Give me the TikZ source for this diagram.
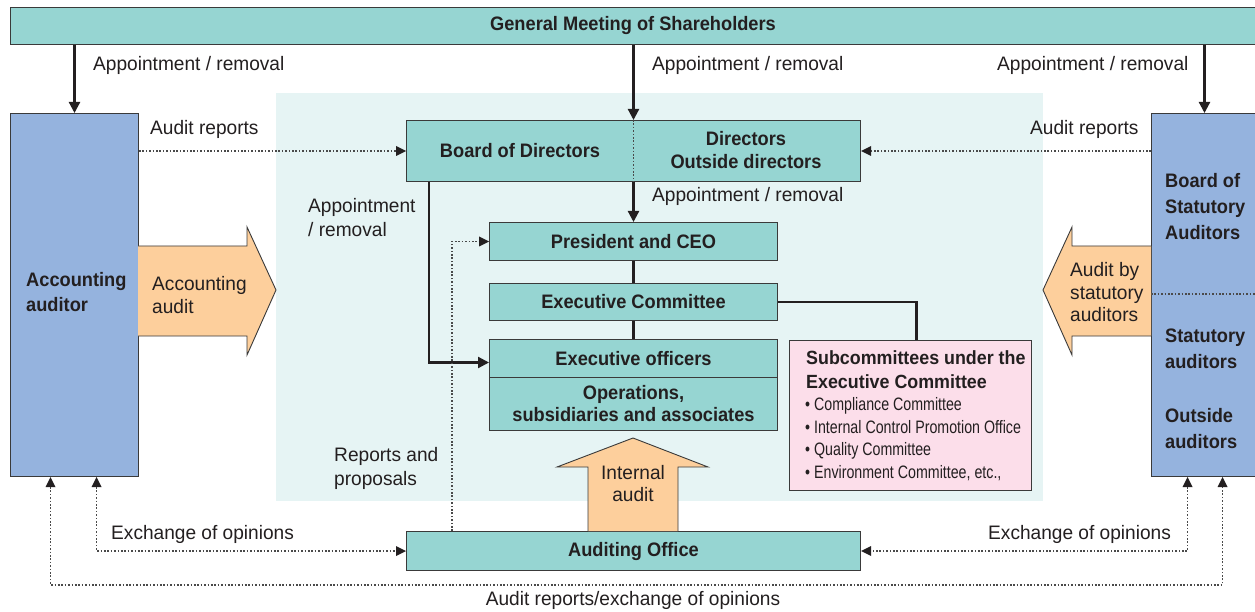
\documentclass[tikz,border=0pt]{standalone}
\usepackage{fontspec}
\setmainfont{Liberation Sans}[FakeStretch=0.98, BoldFont={Liberation Sans Bold}, BoldFeatures={FakeStretch=0.935}]
\newfontfamily\listfont{Liberation Sans}[FakeStretch=0.79]
\usetikzlibrary{arrows.meta,calc}

\definecolor{boxteal}{HTML}{96D5D2}
\definecolor{boxblue}{HTML}{95B3DE}
\definecolor{panelfill}{HTML}{E6F4F4}
\definecolor{arrowfill}{HTML}{FDCF9C}
\definecolor{pinkfill}{HTML}{FCDEEA}
\definecolor{ink}{HTML}{231F20}
\definecolor{edge}{HTML}{3A3A3A}
\definecolor{dotgray}{HTML}{4A4A4A}

\tikzset{
  box/.style={draw=edge, line width=1pt, inner sep=0pt, anchor=north west},
  tealbox/.style={box, fill=boxteal},
  bluebox/.style={box, fill=boxblue},
  pinkbox/.style={box, fill=pinkfill},
  btext/.style={font=\bfseries\fontsize{19.5}{23}\selectfont, text=ink, inner sep=0pt, align=center},
  lbl/.style={font=\fontsize{19.5}{24}\selectfont, text=ink, inner sep=0pt, anchor=west, align=left},
  blbl/.style={font=\bfseries\fontsize{19.5}{26}\selectfont, text=ink, inner sep=0pt, anchor=west, align=left},
  solidarr/.style={line width=2.2pt, draw=ink, -{Triangle[length=11pt,width=11pt]}},
  link/.style={line width=2.2pt, draw=ink},
  dotline/.style={draw=dotgray, line width=1.6pt, dash pattern=on 1.6pt off 1.8pt},
  dotarr/.style={dotline, -{Triangle[length=10pt,width=10pt,fill=ink,line width=0pt]}},
  dotboth/.style={dotline, {Triangle[length=10pt,width=10pt,fill=ink,line width=0pt]}-{Triangle[length=10pt,width=10pt,fill=ink,line width=0pt]}},
  bigarrow/.style={draw=edge, line width=0.9pt}
}

\begin{document}
\begin{tikzpicture}[x=1pt,y=-1pt]
\useasboundingbox[fill=white] (0,0) rectangle (1255,612);

% shaded management area
\fill[panelfill] (276,93) rectangle (1043,501);

% shareholders and the two auditor columns
\node[tealbox, minimum width=1250, minimum height=37] (gm) at (10,7) {};
\node[btext] (gmtext) at (633,25.5) {General Meeting of Shareholders};

\node[bluebox, minimum width=128, minimum height=363] (aa) at (10,113) {};
\node[blbl, font=\bfseries\fontsize{19.5}{25}\selectfont] (aatext) at (26,292) {Accounting\\auditor};

\node[bluebox, minimum width=106, minimum height=363] (sa) at (1151,113) {};
\draw[dotline] (sa.west |- 0,294) -- (sa.east |- 0,294);
\node[blbl] (satext1) at (1165,207) {Board of\\Statutory\\Auditors};
\node[blbl] (satext2) at (1165,349) {Statutory\\auditors};
\node[blbl] (satext3) at (1165,429) {Outside\\auditors};

% board of directors
\node[tealbox, minimum width=454, minimum height=61] (bod) at (406,120) {};
\draw[dotline] (bod.north) -- (bod.south);
\node[btext] (bodL) at (520,151) {Board of Directors};
\node[btext] (bodR) at (746,150) {Directors\\Outside directors};

% executive chain
\node[tealbox, minimum width=288, minimum height=38] (ceo) at (489,222) {};
\node[btext] (ceotext) at (ceo.center) {President and CEO};
\node[tealbox, minimum width=288, minimum height=37] (ec) at (489,283) {};
\node[btext] (ectext) at (ec.center) {Executive Committee};
\node[tealbox, minimum width=288, minimum height=38] (eo) at (489,339) {};
\node[btext] (eotext) at (eo.center) {Executive officers};
\node[tealbox, minimum width=288, minimum height=53] (ops) at (489,377) {};
\node[btext, font=\bfseries\fontsize{19.5}{22}\selectfont] (opstext) at ($(ops.center)+(0,-0.5)$) {Operations,\\subsidiaries and associates};

% subcommittees
\node[pinkbox, minimum width=242, minimum height=150] (sub) at (789,340) {};
\node[blbl, font=\bfseries\fontsize{19.1}{24}\selectfont] (subtitle) at (806,370) {Subcommittees under the\\Executive Committee};
\node[lbl, font=\listfont\fontsize{18}{22.7}\selectfont] (sublist) at (805,439)
  {\textbullet\ Compliance Committee\\\textbullet\ Internal Control Promotion Office\\\textbullet\ Quality Committee\\\textbullet\ Environment Committee, etc.,};

% auditing office
\node[tealbox, minimum width=454, minimum height=39] (ao) at (406,531) {};
\node[btext] (aotext) at (ao.center) {Auditing Office};

% broad audit arrows
\fill[arrowfill] (138,246) -- (247,246) -- (247,227) -- (276,290) -- (247,355) -- (247,336) -- (138,336) -- cycle;
\draw[bigarrow] (138,246) -- (247,246) -- (247,227) -- (276,290) -- (247,355) -- (247,336) -- (138,336);
\node[lbl, font=\fontsize{19.5}{23}\selectfont] (acctaudit) at (152,295.5) {Accounting\\audit};

\fill[arrowfill] (1151,246) -- (1072,246) -- (1072,227) -- (1043,290) -- (1072,355) -- (1072,336) -- (1151,336) -- cycle;
\draw[bigarrow] (1151,246) -- (1072,246) -- (1072,227) -- (1043,290) -- (1072,355) -- (1072,336) -- (1151,336);
\node[lbl, font=\fontsize{19.5}{22.5}\selectfont] (stataudit) at (1070,292.5) {Audit by\\statutory\\auditors};

\fill[arrowfill] (588,531) -- (588,467) -- (557,467) -- (633,438) -- (708,467) -- (678,467) -- (678,531) -- cycle;
\draw[bigarrow] (588,531) -- (588,467) -- (557,467) -- (633,438) -- (708,467) -- (678,467) -- (678,531);
\node[btext, font=\fontsize{19.5}{22}\selectfont] (intaudit) at (633,484) {Internal\\audit};

% appointment and removal
\draw[solidarr] (gm.south -| aa.north) -- (aa.north);
\draw[solidarr] (gm.south -| bod.north) -- (bod.north);
\draw[solidarr] (gm.south -| sa.north) -- (sa.north);
\node[lbl] (apL) at (93,65) {Appointment / removal};
\node[lbl] (apC) at (652,65) {Appointment / removal};
\node[lbl] (apR) at (997,65) {Appointment / removal};

\draw[solidarr] (bod.south) -- (ceo.north);
\node[lbl] (apCEO) at (652,196) {Appointment / removal};
\draw[solidarr] ([xshift=23pt]bod.south west) |- ([yshift=-4pt]eo.west);
\node[lbl] (apEO) at (308,218) {Appointment\\/ removal};

\draw[link] (ceo.south) -- (ec.north);
\draw[link] (ec.south) -- (eo.north);
\draw[link] (ec.east) -| ([xshift=6pt]sub.north);

% audit reports
\draw[dotarr] (bod.west -| aa.east) -- (bod.west);
\draw[dotarr] (bod.east -| sa.west) -- (bod.east);
\node[lbl] (arL) at (150,129) {Audit reports};
\node[lbl] (arR) at (1030,129) {Audit reports};

% reports and proposals
\draw[dotarr] ([xshift=46pt]ao.north west) |- (ceo.west);
\node[lbl] (rep) at (334,468) {Reports and\\proposals};

% exchange of opinions
\coordinate (botmid) at (633,585);
\draw[dotboth] ([xshift=22pt]aa.south) |- (ao.west);
\draw[dotboth] ([xshift=-17pt]sa.south) |- (ao.east);
\draw[dotboth] ([xshift=-24pt]aa.south) |- (botmid) -| ([xshift=18pt]sa.south);
\node[lbl] (exL) at (111,534) {Exchange of opinions};
\node[lbl] (exR) at (988,534) {Exchange of opinions};
\node[lbl, anchor=center] (arx) at (633,600) {Audit reports/exchange of opinions};
\end{tikzpicture}
\end{document}
